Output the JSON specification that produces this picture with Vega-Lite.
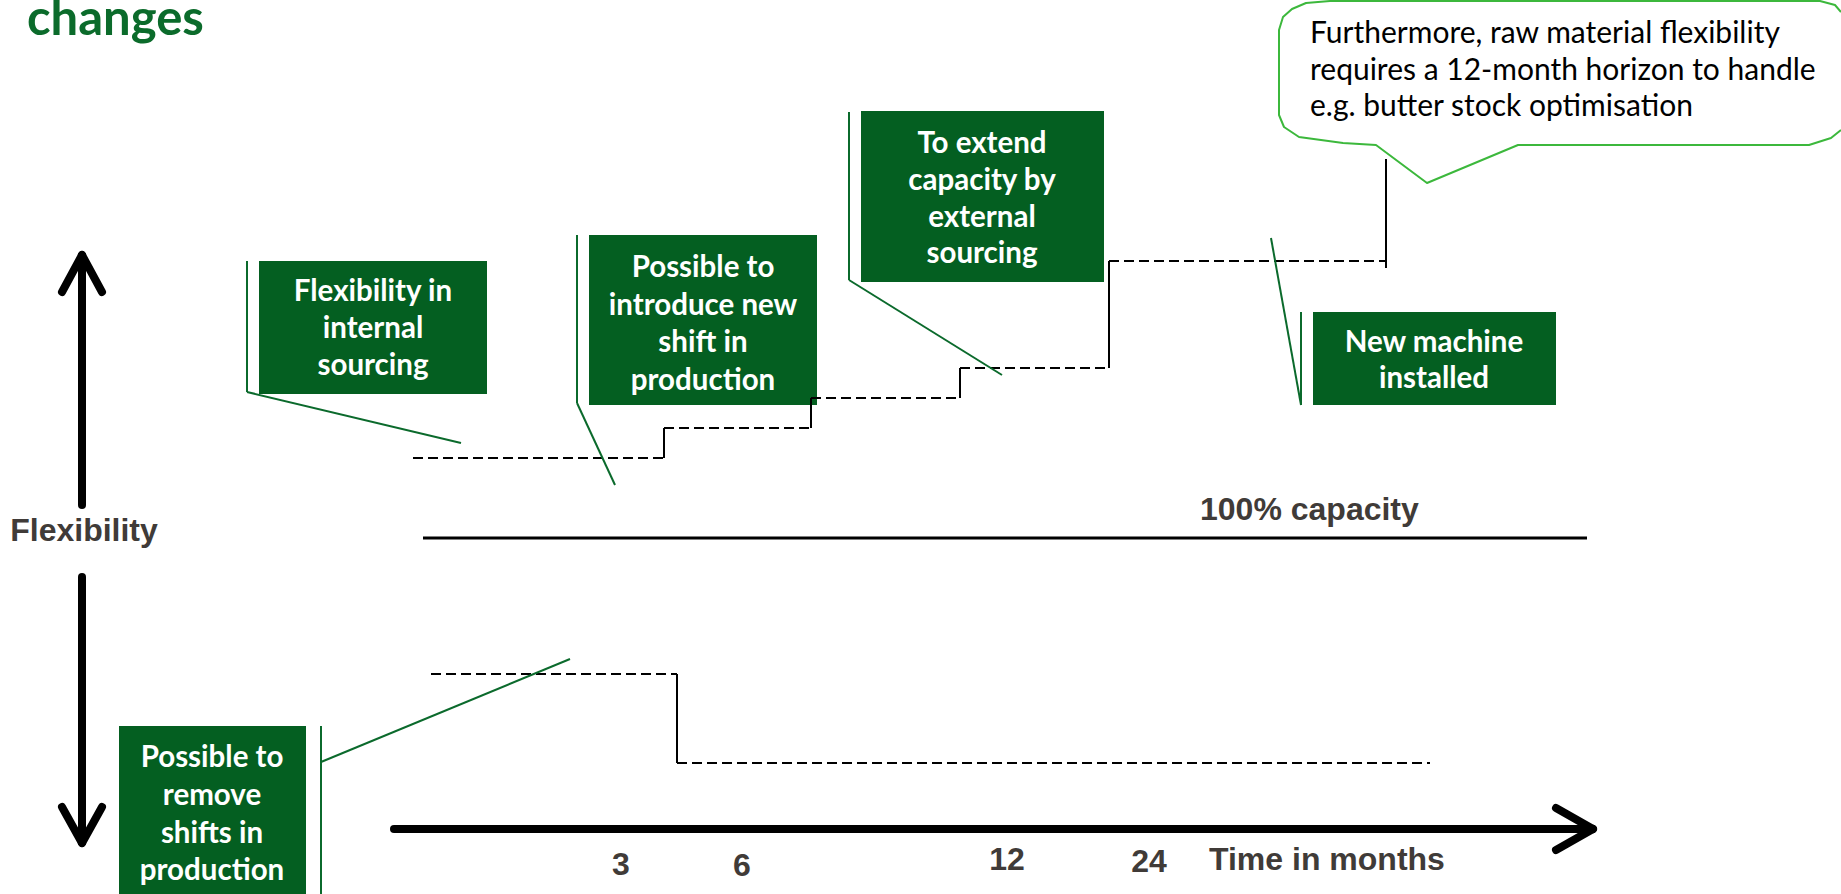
{
  "$schema": "https://vega.github.io/schema/vega-lite/v6.json",
  "width": 1841,
  "height": 894,
  "autosize": {"type": "none"},
  "padding": 0,
  "background": "white",
  "config": {"view": {"stroke": null}},
  "datasets": {
    "boxes": [
      {"x": 259, "x2": 487, "y": 261, "y2": 394},
      {"x": 589, "x2": 817, "y": 235, "y2": 405},
      {"x": 861, "x2": 1104, "y": 111, "y2": 282},
      {"x": 119, "x2": 306, "y": 726, "y2": 894},
      {"x": 1313, "x2": 1556, "y": 312, "y2": 405}
    ],
    "segs": [
      {"x": 413, "y": 458, "x2": 664, "y2": 458, "k": "dash"},
      {"x": 664, "y": 428, "x2": 811, "y2": 428, "k": "dash"},
      {"x": 811, "y": 398, "x2": 960, "y2": 398, "k": "dash"},
      {"x": 960, "y": 368, "x2": 1109, "y2": 368, "k": "dash"},
      {"x": 1109, "y": 261, "x2": 1386, "y2": 261, "k": "dash"},
      {"x": 431, "y": 674, "x2": 677, "y2": 674, "k": "dash"},
      {"x": 677, "y": 763, "x2": 1430, "y2": 763, "k": "dash"},
      {"x": 664, "y": 458, "x2": 664, "y2": 428, "k": "step"},
      {"x": 811, "y": 428, "x2": 811, "y2": 398, "k": "step"},
      {"x": 960, "y": 398, "x2": 960, "y2": 368, "k": "step"},
      {"x": 1109, "y": 368, "x2": 1109, "y2": 261, "k": "step"},
      {"x": 1386, "y": 159, "x2": 1386, "y2": 268, "k": "step"},
      {"x": 677, "y": 674, "x2": 677, "y2": 763, "k": "step"},
      {"x": 423, "y": 538, "x2": 1587, "y2": 538, "k": "cap"},
      {"x": 247, "y": 261, "x2": 247, "y2": 392, "k": "green"},
      {"x": 247, "y": 392, "x2": 461, "y2": 443, "k": "green"},
      {"x": 577, "y": 235, "x2": 577, "y2": 403, "k": "green"},
      {"x": 577, "y": 403, "x2": 615, "y2": 485, "k": "green"},
      {"x": 849, "y": 112, "x2": 849, "y2": 280, "k": "green"},
      {"x": 849, "y": 280, "x2": 1002, "y2": 375, "k": "green"},
      {"x": 1301, "y": 312, "x2": 1301, "y2": 405, "k": "green"},
      {"x": 1271, "y": 238, "x2": 1301, "y2": 405, "k": "green"},
      {"x": 321, "y": 726, "x2": 321, "y2": 894, "k": "green"},
      {"x": 321, "y": 762, "x2": 570, "y2": 659, "k": "green"},
      {"x": 394, "y": 829, "x2": 1590, "y2": 829, "k": "thick"},
      {"x": 1556, "y": 808, "x2": 1593, "y2": 829, "k": "thick"},
      {"x": 1593, "y": 829, "x2": 1556, "y2": 850, "k": "thick"},
      {"x": 82, "y": 505, "x2": 82, "y2": 256, "k": "thick"},
      {"x": 62, "y": 292, "x2": 82, "y2": 255, "k": "thick"},
      {"x": 102, "y": 292, "x2": 82, "y2": 255, "k": "thick"},
      {"x": 82, "y": 577, "x2": 82, "y2": 842, "k": "thick"},
      {"x": 62, "y": 807, "x2": 82, "y2": 843, "k": "thick"},
      {"x": 102, "y": 807, "x2": 82, "y2": 843, "k": "thick"}
    ],
    "bubble": [
      {"i": 1, "x": 1841, "y": 130},
      {"i": 2, "x": 1831, "y": 138},
      {"i": 3, "x": 1809, "y": 145},
      {"i": 4, "x": 1518, "y": 145},
      {"i": 5, "x": 1427, "y": 183},
      {"i": 6, "x": 1376, "y": 145},
      {"i": 7, "x": 1343, "y": 143},
      {"i": 8, "x": 1299, "y": 137},
      {"i": 9, "x": 1284, "y": 127},
      {"i": 10, "x": 1279, "y": 115},
      {"i": 11, "x": 1279, "y": 30},
      {"i": 12, "x": 1283, "y": 17},
      {"i": 13, "x": 1292, "y": 9},
      {"i": 14, "x": 1306, "y": 3},
      {"i": 15, "x": 1330, "y": 1},
      {"i": 16, "x": 1820, "y": 1},
      {"i": 17, "x": 1835, "y": 5},
      {"i": 18, "x": 1841, "y": 12}
    ],
    "texts": [
      {"s": "box", "x": 373, "y": 301, "t": "Flexibility in"},
      {"s": "box", "x": 373, "y": 338, "t": "internal"},
      {"s": "box", "x": 373, "y": 375, "t": "sourcing"},
      {"s": "box", "x": 703, "y": 277, "t": "Possible to"},
      {"s": "box", "x": 703, "y": 315, "t": "introduce new"},
      {"s": "box", "x": 703, "y": 352, "t": "shift in"},
      {"s": "box", "x": 703, "y": 390, "t": "production"},
      {"s": "box", "x": 982, "y": 153, "t": "To extend"},
      {"s": "box", "x": 982, "y": 190, "t": "capacity by"},
      {"s": "box", "x": 982, "y": 227, "t": "external"},
      {"s": "box", "x": 982, "y": 263, "t": "sourcing"},
      {"s": "box", "x": 212, "y": 767, "t": "Possible to"},
      {"s": "box", "x": 212, "y": 805, "t": "remove"},
      {"s": "box", "x": 212, "y": 843, "t": "shifts in"},
      {"s": "box", "x": 212, "y": 880, "t": "production"},
      {"s": "box", "x": 1434, "y": 352, "t": "New machine"},
      {"s": "box", "x": 1434, "y": 388, "t": "installed"},
      {"s": "note", "x": 1310, "y": 43, "t": "Furthermore, raw material flexibility"},
      {"s": "note", "x": 1310, "y": 80, "t": "requires a 12-month horizon to handle"},
      {"s": "note", "x": 1310, "y": 116, "t": "e.g. butter stock optimisation"},
      {"s": "label", "x": 84, "y": 541, "t": "Flexibility"},
      {"s": "labelL", "x": 1200, "y": 520, "t": "100% capacity"},
      {"s": "label", "x": 621, "y": 875, "t": "3"},
      {"s": "label", "x": 742, "y": 876, "t": "6"},
      {"s": "label", "x": 1007, "y": 870, "t": "12"},
      {"s": "label", "x": 1149, "y": 872, "t": "24"},
      {"s": "labelL", "x": 1209, "y": 870, "t": "Time in months"},
      {"s": "title", "x": 27, "y": 35, "t": "changes"}
    ]
  },
  "encoding": {
    "x": {"field": "x", "type": "quantitative", "scale": {"domain": [0, 1841], "nice": false, "zero": false}, "axis": null},
    "y": {"field": "y", "type": "quantitative", "scale": {"domain": [0, 894], "reverse": true, "nice": false, "zero": false}, "axis": null}
  },
  "layer": [
    {
      "data": {"name": "bubble"},
      "mark": {"type": "line", "stroke": "#3cb83c", "strokeWidth": 2, "strokeJoin": "round"},
      "encoding": {"order": {"field": "i", "type": "quantitative"}}
    },
    {
      "data": {"name": "boxes"},
      "mark": {"type": "rect", "fill": "#045f21"},
      "encoding": {
        "x2": {"field": "x2"},
        "y2": {"field": "y2"}
      }
    },
    {
      "data": {"name": "segs"},
      "transform": [{"filter": "datum.k === 'dash'"}],
      "mark": {"type": "rule", "stroke": "black", "strokeWidth": 2, "strokeDash": [10, 5]},
      "encoding": {"x2": {"field": "x2"}, "y2": {"field": "y2"}}
    },
    {
      "data": {"name": "segs"},
      "transform": [{"filter": "datum.k === 'step'"}],
      "mark": {"type": "rule", "stroke": "black", "strokeWidth": 2},
      "encoding": {"x2": {"field": "x2"}, "y2": {"field": "y2"}}
    },
    {
      "data": {"name": "segs"},
      "transform": [{"filter": "datum.k === 'cap'"}],
      "mark": {"type": "rule", "stroke": "black", "strokeWidth": 3},
      "encoding": {"x2": {"field": "x2"}, "y2": {"field": "y2"}}
    },
    {
      "data": {"name": "segs"},
      "transform": [{"filter": "datum.k === 'green'"}],
      "mark": {"type": "rule", "stroke": "#0b6a2c", "strokeWidth": 2},
      "encoding": {"x2": {"field": "x2"}, "y2": {"field": "y2"}}
    },
    {
      "data": {"name": "segs"},
      "transform": [{"filter": "datum.k === 'thick'"}],
      "mark": {"type": "rule", "stroke": "black", "strokeWidth": 8, "strokeCap": "round"},
      "encoding": {"x2": {"field": "x2"}, "y2": {"field": "y2"}}
    },
    {
      "data": {"name": "texts"},
      "transform": [{"filter": "datum.s === 'box'"}],
      "mark": {"type": "text", "font": "Lato", "fontWeight": "bold", "fontSize": 29.5, "fill": "white", "align": "center", "baseline": "alphabetic"},
      "encoding": {"text": {"field": "t"}}
    },
    {
      "data": {"name": "texts"},
      "transform": [{"filter": "datum.s === 'note'"}],
      "mark": {"type": "text", "font": "Lato", "fontSize": 30, "fill": "black", "align": "left", "baseline": "alphabetic"},
      "encoding": {"text": {"field": "t"}}
    },
    {
      "data": {"name": "texts"},
      "transform": [{"filter": "datum.s === 'label'"}],
      "mark": {"type": "text", "font": "Liberation Sans", "fontWeight": "bold", "fontSize": 32, "fill": "#403b38", "align": "center", "baseline": "alphabetic"},
      "encoding": {"text": {"field": "t"}}
    },
    {
      "data": {"name": "texts"},
      "transform": [{"filter": "datum.s === 'labelL'"}],
      "mark": {"type": "text", "font": "Liberation Sans", "fontWeight": "bold", "fontSize": 32, "fill": "#403b38", "align": "left", "baseline": "alphabetic"},
      "encoding": {"text": {"field": "t"}}
    },
    {
      "data": {"name": "texts"},
      "transform": [{"filter": "datum.s === 'title'"}],
      "mark": {"type": "text", "font": "Lato", "fontWeight": "bold", "fontSize": 49, "fill": "#0b6b2b", "align": "left", "baseline": "alphabetic"},
      "encoding": {"text": {"field": "t"}}
    }
  ]
}
